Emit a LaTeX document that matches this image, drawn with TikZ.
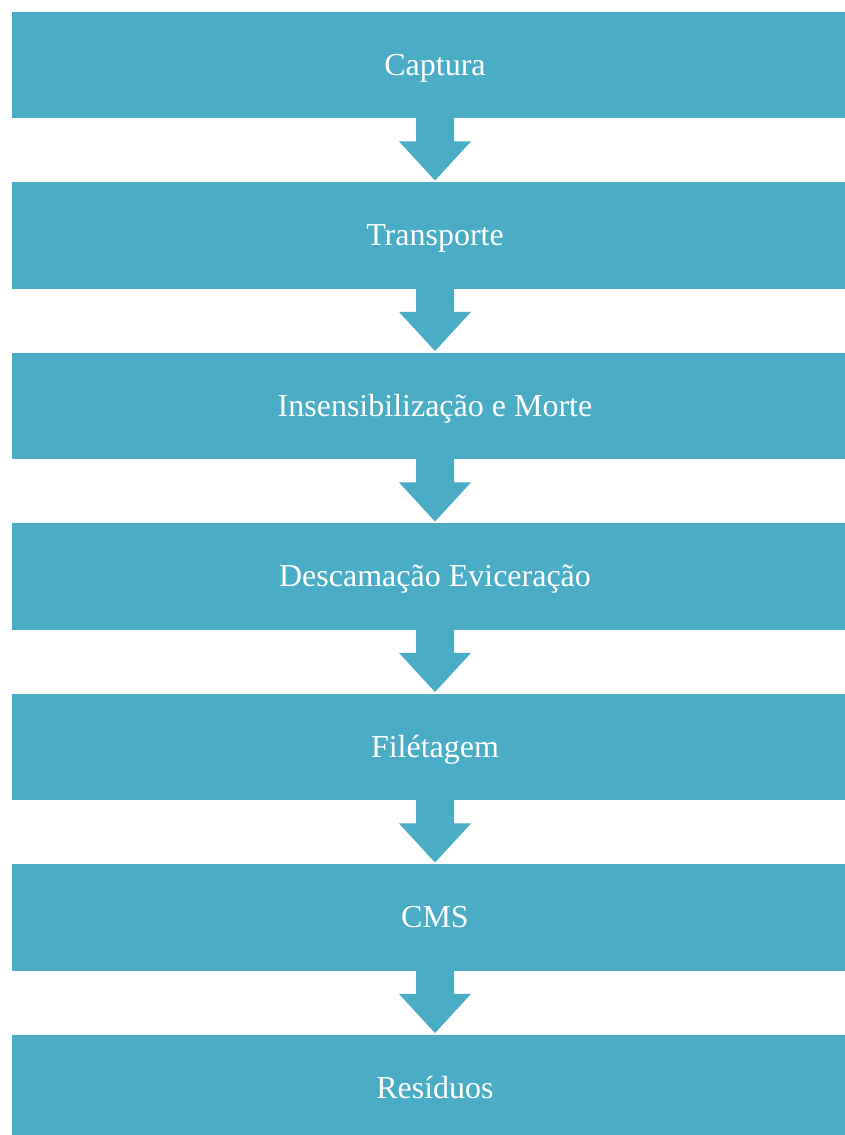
\documentclass[tikz,border=0pt]{standalone}
\usepackage{fontspec}
\setmainfont{Liberation Serif}
\usetikzlibrary{calc}
\definecolor{boxblue}{HTML}{4BACC6}
\newcommand\flowarrow[2]{%
  \fill[boxblue] ($(#1.south)+(-19,-1)$) -- ($(#1.south)+(-19,23)$) -- ($(#1.south)+(-36,23)$)
    -- ($(#2.north)+(0,-1.5)$) -- ($(#1.south)+(36,23)$) -- ($(#1.south)+(19,23)$)
    -- ($(#1.south)+(19,-1)$) -- cycle;}
\begin{document}
\begin{tikzpicture}[x=1pt,y=-1pt,
  stepbox/.style={fill=boxblue, minimum width=847pt, minimum height=106.5pt, inner sep=0pt,
    text=white, font=\fontsize{32}{38}\selectfont, text height=25pt, text depth=4pt, anchor=north}]
\useasboundingbox (0,0) rectangle (845,1135);
\clip (0,0) rectangle (845,1135);
\node[stepbox] (b1) at (435,11.5) {Captura};
\node[stepbox] (b2) at (435,182) {Transporte};
\node[stepbox] (b3) at (435,352.5) {Insensibilização e Morte};
\node[stepbox] (b4) at (435,523) {Descamação Eviceração};
\node[stepbox] (b5) at (435,693.5) {Filétagem};
\node[stepbox] (b6) at (435,864) {CMS};
\node[stepbox] (b7) at (435,1034.5) {Resíduos};
\flowarrow{b1}{b2}
\flowarrow{b2}{b3}
\flowarrow{b3}{b4}
\flowarrow{b4}{b5}
\flowarrow{b5}{b6}
\flowarrow{b6}{b7}
\end{tikzpicture}
\end{document}
